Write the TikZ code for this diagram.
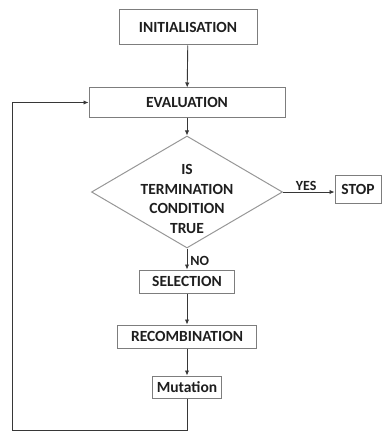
\documentclass[tikz,border=0pt]{standalone}
\usepackage{fontspec}
\setmainfont{Carlito}
\usepackage{tikz}
\usetikzlibrary{arrows.meta,shapes.geometric}
\usepackage{xcolor}
\definecolor{flowgray}{RGB}{125,125,125}
\definecolor{flowline}{RGB}{55,55,55}
\definecolor{flowtext}{RGB}{30,30,30}

\begin{document}
\begin{tikzpicture}[x=1pt,y=-1pt,>={Latex[length=5pt,width=4.5pt]},
  stepbox/.style={draw=flowgray,line width=1pt,inner sep=0pt,text=flowtext,
    font=\bfseries\fontsize{15.5}{17}\selectfont},
  decision/.style={diamond,draw=flowgray!80,line width=1pt,inner sep=0pt},
  question/.style={align=center,text=flowtext,inner sep=0pt,
    font=\bfseries\fontsize{15.5}{19.5}\selectfont},
  flow/.style={->,draw=flowline,line width=0.9pt},
  tag/.style={text=flowtext,font=\bfseries\fontsize{14}{16}\selectfont,inner sep=1pt}]
\useasboundingbox (0,0) rectangle (384,433);
% boxes of the loop
\node[stepbox,minimum width=138pt,minimum height=35pt] (init) at (188,27.5) {INITIALISATION};
\node[stepbox,minimum width=196pt,minimum height=29pt] (eval) at (187,102.5) {EVALUATION};
\node[decision,minimum width=191pt,minimum height=112pt] (test) at (187,192) {};
\node[question] (testtext) at (187,199) {IS\\TERMINATION\\CONDITION\\TRUE};
\node[stepbox,minimum width=46pt,minimum height=28pt] (stop) at (358,189) {STOP};
\node[stepbox,minimum width=95pt,minimum height=23pt] (select) at (187,281.5) {SELECTION};
\node[stepbox,minimum width=139pt,minimum height=23pt] (recomb) at (187,336.5) {RECOMBINATION};
\node[stepbox,minimum width=69pt,minimum height=22pt] (mutate) at (187,387) {Mutation};
\coordinate (corner) at (12,430);
% connectors
\draw[flow] (init) -- (eval);
\draw[flow] (eval) -- (test);
\draw[flow] (test.east) -- node[tag,above,pos=0.45] {YES} (test.east -| stop.west);
\draw[flow] (test) -- node[tag,right,pos=0.6,xshift=2pt] {NO} (select);
\draw[flow] (select) -- (recomb);
\draw[flow] (recomb) -- (mutate);
\draw[flow] (mutate.south) |- (corner) |- (eval.west);
\end{tikzpicture}
\end{document}
